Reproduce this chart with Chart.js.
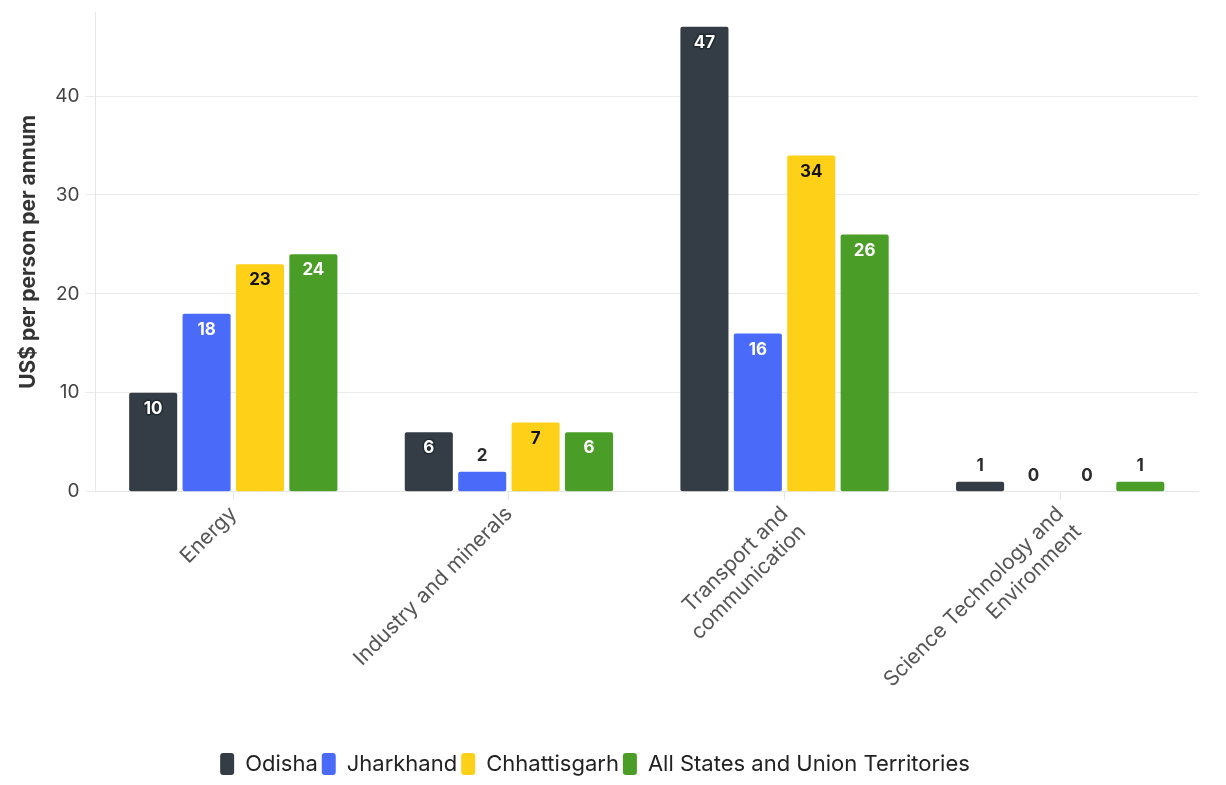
<!DOCTYPE html>
<html>
<head>
<meta charset="utf-8">
<script src="https://cdn.jsdelivr.net/npm/chart.js@4.4.1/dist/chart.umd.min.js"></script>
<style>
html,body{margin:0;padding:0;background:#fff;}
#wrap{width:1226px;height:785px;}
</style>
</head>
<body>
<div id="wrap"><canvas id="c" width="1226" height="785"></canvas></div>
<script>
const categories = [["Energy"], ["Industry and minerals"], ["Transport and", "communication"], ["Science Technology and", "Environment"]];
const seriesNames = ["Odisha", "Jharkhand", "Chhattisgarh", "All States and Union Territories"];
const odisha = [10, 6, 47, 1];
const jharkhand = [18, 2, 16, 0];
const chhattisgarh = [23, 7, 34, 0];
const allStates = [24, 6, 26, 1];
const yTicks = [0, 10, 20, 30, 40];

const colors = ["#343c45", "#4a6bfa", "#fed017", "#4a9e27"];
const labelColors = ["#ffffff", "#ffffff", "#111111", "#ffffff"];
const seriesValues = [odisha, jharkhand, chhattisgarh, allStates];

const labelPlugin = {
  id: 'valueLabels',
  afterLayout(chart) {
    if (chart.legend) { chart.legend.left -= 10; chart.legend.right -= 10; }
  },
  afterDatasetsDraw(chart) {
    const ctx = chart.ctx;
    ctx.save();
    ctx.font = 'bold 17px Inter';
    ctx.textAlign = 'center';
    ctx.textBaseline = 'middle';
    chart.data.datasets.forEach((ds, di) => {
      const meta = chart.getDatasetMeta(di);
      meta.data.forEach((bar, i) => {
        const v = ds.data[i];
        const txt = String(v);
        let y, color, stroke = null;
        if (v <= 2) {
          y = bar.y - 16;
          color = '#2b2b2b';
        } else {
          y = bar.y + 16;
          color = labelColors[di];
          if (di === 0) stroke = '#222a31';
        }
        if (stroke) {
          ctx.lineWidth = 3;
          ctx.strokeStyle = stroke;
          ctx.lineJoin = 'round';
          ctx.strokeText(txt, bar.x, y);
        }
        ctx.fillStyle = color;
        ctx.fillText(txt, bar.x, y);
      });
    });
    ctx.restore();
  }
};

new Chart(document.getElementById('c'), {
  type: 'bar',
  data: {
    labels: categories,
    datasets: seriesNames.map((n, i) => ({
      label: n,
      data: seriesValues[i],
      backgroundColor: colors[i],
      borderColor: colors[i],
      borderWidth: 0,
      borderRadius: 2,
      borderSkipped: false,
      barPercentage: 0.9,
      categoryPercentage: 0.775
    }))
  },
  options: {
    responsive: false,
    animation: false,
    devicePixelRatio: 1,
    layout: { padding: { left: 12, right: 28, top: 12, bottom: 0 } },
    scales: {
      x: {
        afterFit(scale) { scale.height += 37; },
        grid: { display: true, drawOnChartArea: false, offset: false, tickLength: 8, color: '#e6e6e6' },
        border: { color: '#e6e6e6' },
        ticks: {
          color: '#555',
          font: { family: 'Inter', size: 21 },
          maxRotation: 45,
          minRotation: 45,
          padding: 2
        }
      },
      y: {
        min: 0,
        max: 48.5,
        afterBuildTicks(axis) { axis.ticks = yTicks.map(v => ({ value: v })); },
        afterFit(scale) { scale.paddingTop = 0; },
        grid: { color: '#ebebeb', tickLength: 10 },
        border: { color: '#e6e6e6' },
        ticks: { color: '#444', font: { family: 'Inter', size: 19 }, padding: 6 },
        title: {
          display: true,
          text: 'US$ per person per annum',
          color: '#333',
          font: { family: 'Inter', size: 21, weight: 'bold' },
          padding: { bottom: 8 }
        }
      }
    },
    plugins: {
      legend: {
        position: 'bottom',
        labels: {
          color: '#222',
          font: { family: 'Inter', size: 22 },
          boxWidth: 14,
          boxHeight: 22,
          useBorderRadius: true,
          borderRadius: 3,
          padding: 4
        }
      },
      tooltip: { enabled: false }
    }
  },
  plugins: [labelPlugin]
});
</script>
</body>
</html>
